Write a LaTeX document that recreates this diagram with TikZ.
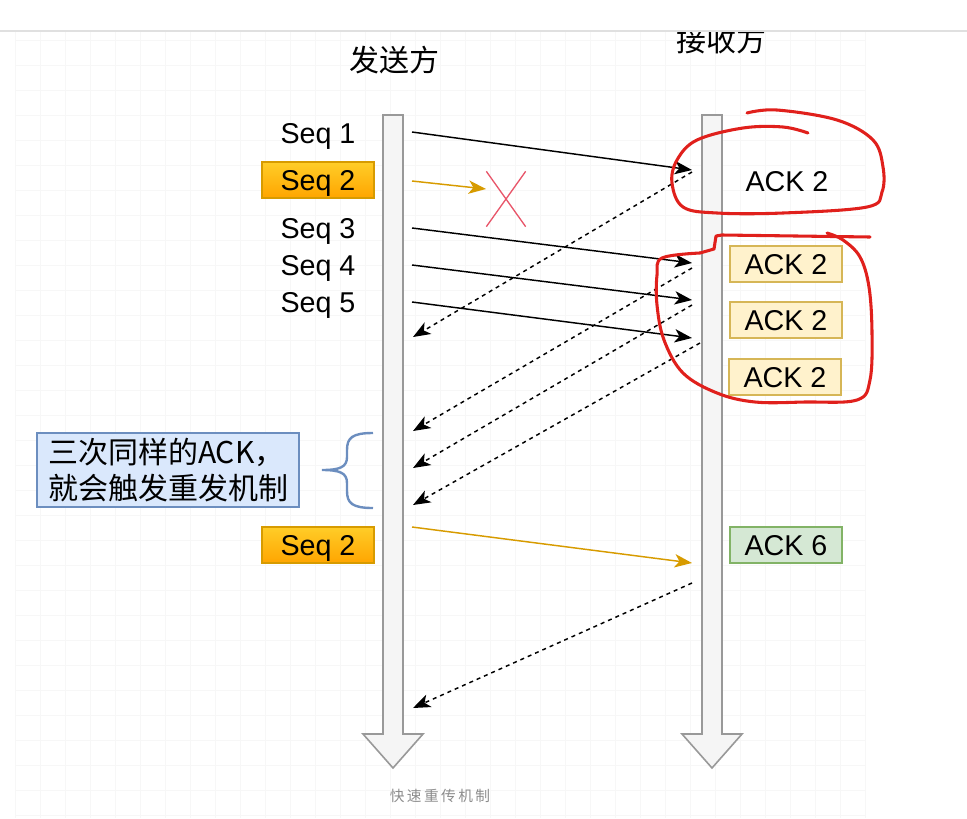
\documentclass[tikz,border=0pt]{standalone}
\usepackage{fontspec}
\setmainfont{Liberation Sans}
\newfontfamily\cjkfont{Noto Sans CJK SC}
\usetikzlibrary{arrows.meta, shapes.misc}
\definecolor{SeqTop}{HTML}{FFCD28}
\definecolor{SeqBot}{HTML}{FFA500}
\definecolor{SeqLine}{HTML}{D79B00}
\definecolor{AckFill}{HTML}{FFF2CC}
\definecolor{AckLine}{HTML}{D6B656}
\definecolor{OkFill}{HTML}{D5E8D4}
\definecolor{OkLine}{HTML}{82B366}
\definecolor{NoteFill}{HTML}{DAE8FC}
\definecolor{NoteLine}{HTML}{6C8EBF}
\definecolor{LostRed}{HTML}{E8566A}
\definecolor{PenRed}{HTML}{E0201C}

\begin{document}
\begin{tikzpicture}[x=0.75pt, y=-0.75pt,
    txt/.style={font=\fontsize{21.5}{24}\selectfont, inner sep=0pt, text depth=0pt},
    seqbox/.style={txt, draw=SeqLine, top color=SeqTop, bottom color=SeqBot,
      minimum width=84pt, minimum height=27pt, line width=0.8pt},
    ackbox/.style={txt, draw=AckLine, fill=AckFill,
      minimum width=84pt, minimum height=27pt, line width=0.8pt},
    okbox/.style={ackbox, draw=OkLine, fill=OkFill},
    lifeline/.style={draw=black!40, fill=black!4, line width=1.2pt},
    msg/.style={-{Stealth[length=13pt, width=10pt, inset=3.5pt]}, line width=1.1pt},
    ack/.style={msg, dash pattern=on 3pt off 3pt},
    resend/.style={msg, SeqLine},
    pen/.style={PenRed, line width=2.3pt, line cap=round, line join=round}]
\useasboundingbox (0,0) rectangle (967,818);

% faint background grid
\foreach \gx in {15,40,...,865}
  \draw[black!3] (\gx,31) -- (\gx,818);
\foreach \gy in {40,65,...,815}
  \draw[black!3] (15,\gy) -- (865,\gy);

% titles
\node[font=\cjkfont\fontsize{22.5}{26}\selectfont] (sender) at (394,60) {发送方};
\node[font=\cjkfont\fontsize{22.5}{26}\selectfont] (receiver) at (721,40) {接收方};
\fill[white] (0,0) rectangle (967,31);
\draw[black!12, line width=0.8pt] (0,31) -- (967,31);

% lifelines
\draw[lifeline] (383,115) -- (403,115) -- (403,734) -- (423,734) -- (393,768)
  -- (363,734) -- (383,734) -- cycle;
\draw[lifeline] (702,115) -- (722,115) -- (722,734) -- (742,734) -- (712,768)
  -- (682,734) -- (702,734) -- cycle;

% sender side
\node[txt] (seq1) at (318,133) {Seq 1};
\node[seqbox] (seq2) at (318,180) {Seq 2};
\node[txt] (seq3) at (318,228) {Seq 3};
\node[txt] (seq4) at (318,265) {Seq 4};
\node[txt] (seq5) at (318,302) {Seq 5};
\node[seqbox] (seq2b) at (318,545) {Seq 2};

% receiver side
\node[txt] (ack1) at (787,181) {ACK 2};
\node[ackbox] (ack2) at (786,264) {ACK 2};
\node[ackbox] (ack3) at (786,320) {ACK 2};
\node[ackbox] (ack4) at (785,377) {ACK 2};
\node[okbox] (ack6) at (786,545) {ACK 6};

% note and brace
\node[draw=NoteLine, fill=NoteFill, line width=0.8pt, minimum width=196.5pt,
  minimum height=55.5pt, align=left, inner sep=0pt,
  font=\cjkfont\fontsize{22.5}{26.5}\selectfont] (note) at (168,470)
  {三次同样的ACK，\\就会触发重发机制};
\draw[NoteLine, line width=1.8pt] (373,433) .. controls (352,433) and (347,438) .. (347,450)
  -- (347,457) .. controls (347,467) and (340,470) .. (322,470)
  .. controls (340,470) and (347,473) .. (347,483) -- (347,491)
  .. controls (347,503) and (352,508) .. (373,508);

% lost packet
\node[cross out, draw=LostRed, line width=1pt, minimum width=28.5pt,
  minimum height=40.5pt, inner sep=0pt] (lost) at (506,199) {};

% message ends
\coordinate (s1) at (412,132);  \coordinate (r1) at (692,170);
\coordinate (s2) at (412,181);  \coordinate (x2) at (486,189);
\coordinate (s3) at (412,228);  \coordinate (r3) at (692,263);
\coordinate (s4) at (412,265);  \coordinate (r4) at (692,300);
\coordinate (s5) at (412,302);  \coordinate (r5) at (692,338);
\coordinate (s6) at (412,527);  \coordinate (r6) at (692,563);
\coordinate (a1) at (692,172);  \coordinate (b1) at (413,337);
\coordinate (a2) at (692,268);  \coordinate (b2) at (413,431);
\coordinate (a3) at (692,305);  \coordinate (b3) at (413,468);
\coordinate (a4) at (700,343);  \coordinate (b4) at (413,505);
\coordinate (a5) at (692,583);  \coordinate (b5) at (413,708);

\draw[msg] (s1) -- (r1);
\draw[resend] (s2) -- (x2);
\draw[msg] (s3) -- (r3);
\draw[msg] (s4) -- (r4);
\draw[msg] (s5) -- (r5);
\draw[resend] (s6) -- (r6);
\foreach \i in {1,...,5}
  \draw[ack] (a\i) -- (b\i);

% hand drawn marks
\draw[pen] plot[smooth, tension=0.6] coordinates {(747,113) (777,110) (837,120)
  (873,140) (883,167) (882,192) (867,207) (783,213) (717,213) (683,207) (672,183)
  (677,160) (697,140) (743,128) (783,127) (808,133)};
\draw[pen] (870,237) -- (722,235) -- (716,236) -- (714,249) -- (700,253);
\draw[pen] plot[smooth, tension=0.6] coordinates {(700,253) (662,258) (657,275)
  (657,305) (664,340) (683,373) (717,393) (755,402) (805,402) (857,400) (870,380)
  (872,333) (869,287) (860,257) (843,240) (827,233)};

% caption
\node[font=\cjkfont\fontsize{11}{13}\selectfont, text=black!45] (caption) at (440,796)
  {快\,速\,重\,传\,机\,制};
\end{tikzpicture}
\end{document}
